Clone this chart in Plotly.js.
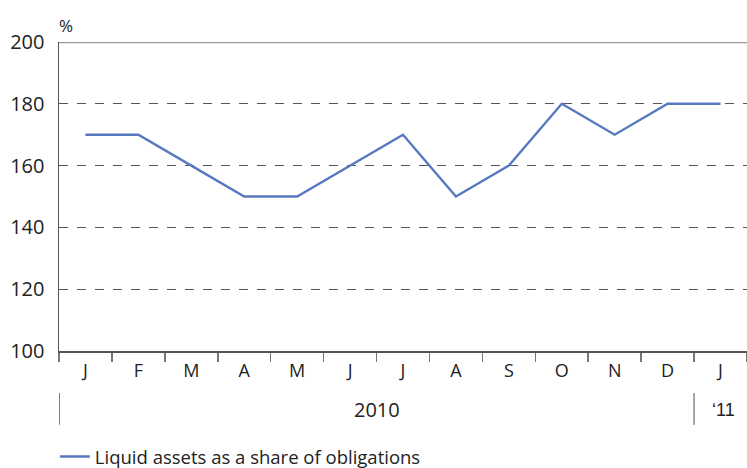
<!DOCTYPE html>
<html>
<head>
<meta charset="utf-8">
<script src="https://cdn.plot.ly/plotly-3.0.1.min.js"></script>
<style>html,body{margin:0;padding:0;background:#fff;}#chart{width:747px;height:468px;}</style>
</head>
<body>
<div id="chart"></div>
<script>
var monthLabels = ['J','F','M','A','M','J','J','A','S','O','N','D','J'];
var values = [170,170,160,150,150,160,170,150,160,180,170,180,180];
var yearLabels = ['2010','\u201811'];
var seriesName = 'Liquid assets as a share of obligations';

var xIdx = monthLabels.map(function(_, i){ return i; });
var boundaries = [];
for (var i = 0; i <= monthLabels.length; i++) boundaries.push(i - 0.5);

var font = "'Open Sans', 'Noto Sans', sans-serif";

var trace = {
  x: xIdx, y: values, type: 'scatter', mode: 'lines', name: seriesName,
  line: {color: '#5779c0', width: 2.4}
};

var layout = {
  width: 747, height: 468,
  margin: {l: 59, r: 0, t: 42, b: 117, autoexpand: false},
  paper_bgcolor: '#fff', plot_bgcolor: '#fff',
  font: {family: font, color: '#222'},
  showlegend: true,
  legend: {orientation: 'h', x: -0.006, y: -0.343, yanchor: 'middle', xanchor: 'left',
           font: {size: 18.5, family: font, color: '#222'}},
  xaxis: {
    range: [-0.5, 12.5], tickvals: xIdx, ticktext: monthLabels, ticks: '',
    showgrid: false, zeroline: false, showline: true, linecolor: '#555', linewidth: 1.5,
    tickfont: {size: 18, family: font, color: '#222'}, ticklabelstandoff: 3,
    minor: {tickvals: boundaries, ticks: 'outside', ticklen: 9, tickcolor: '#777', tickwidth: 1.5, showgrid: false},
    fixedrange: true
  },
  yaxis: {
    range: [100, 200], tickvals: [100,120,140,160,180,200], ticks: '',
    showgrid: true, gridcolor: '#555', griddash: 'dash', gridwidth: 1.2,
    zeroline: false, showline: true, linecolor: '#555', linewidth: 1.5,
    tickfont: {size: 20, family: font, color: '#222'}, ticklabelstandoff: 9,
    fixedrange: true
  },
  shapes: [
    {type: 'line', xref: 'paper', yref: 'y', x0: 0, x1: 1, y0: 200, y1: 200, line: {color: '#999', width: 2.5}},
    {type: 'line', xref: 'x', yref: 'paper', x0: -0.5, x1: -0.5, y0: -0.136, y1: -0.239, line: {color: '#555', width: 1.5}},
    {type: 'line', xref: 'x', yref: 'paper', x0: 11.5, x1: 11.5, y0: -0.136, y1: -0.239, line: {color: '#888', width: 1.5}}
  ],
  annotations: [
    {xref: 'x', yref: 'paper', x: 5.5, y: -0.19, yanchor: 'middle', text: yearLabels[0], showarrow: false, font: {size: 20, family: font, color: '#222'}},
    {xref: 'x', yref: 'paper', x: 12.05, y: -0.19, yanchor: 'middle', text: yearLabels[1], showarrow: false, font: {size: 18, family: "'Liberation Sans', Arial, sans-serif", color: '#222'}},
    {xref: 'paper', yref: 'paper', x: 0, y: 1.0, yshift: 3, xshift: -2, xanchor: 'left', yanchor: 'bottom', text: '%', showarrow: false, font: {size: 17, family: font, color: '#222'}}
  ]
};

Plotly.newPlot('chart', [trace], layout, {displayModeBar: false, staticPlot: true});
</script>
</body>
</html>
